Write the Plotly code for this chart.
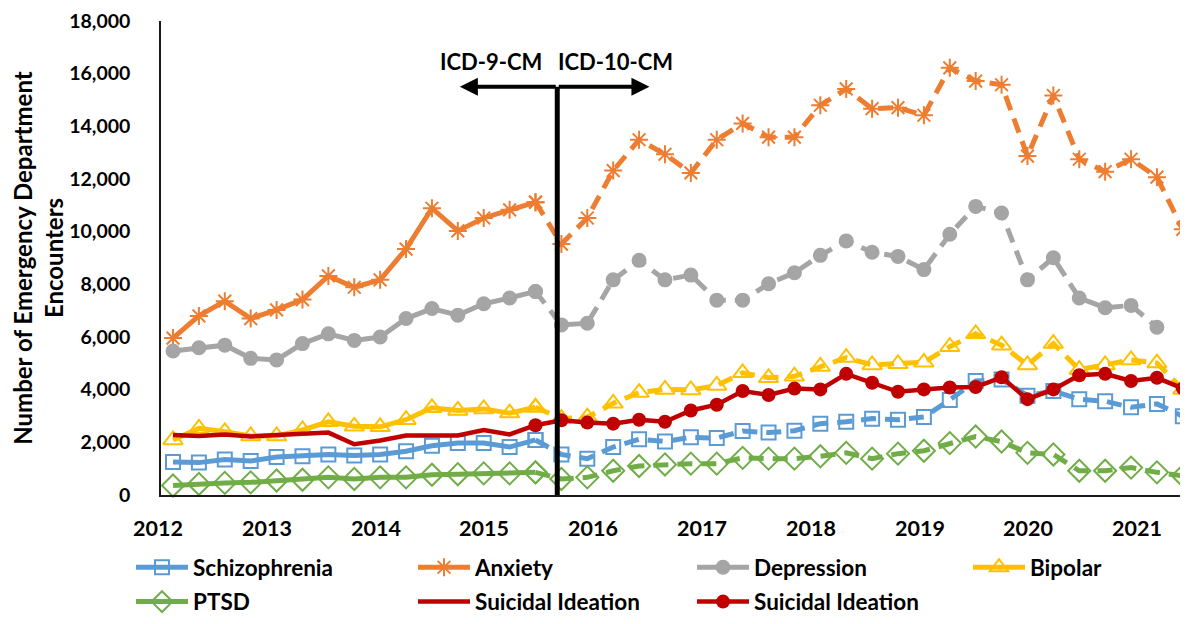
import plotly.graph_objects as go

# ---- data (quarterly ED encounters, 2012 Q1 .. 2021 Q4) ----
years = list(range(2012, 2022))
quarters = [1, 2, 3, 4]
year_labels = [str(y) for y in years]

schizophrenia = [1250, 1230, 1350, 1290, 1440, 1470, 1540, 1500, 1540, 1660,
                 1870, 1970, 1970, 1820, 2090, 1540, 1380, 1820, 2120, 2030,
                 2190, 2160, 2430, 2370, 2440, 2710, 2780, 2900, 2860, 2960,
                 3610, 4330, 4390, 3770, 3950, 3640, 3560, 3330, 3460, 2990]
anxiety = [5960, 6800, 7360, 6700, 7030, 7420, 8320, 7890, 8170, 9340,
           10890, 10030, 10520, 10830, 11120, 9530, 10520, 12320, 13490, 12940,
           12230, 13490, 14110, 13590, 13590, 14800, 15420, 14670, 14710, 14420,
           16220, 15720, 15580, 12870, 15170, 12750, 12280, 12750, 12070, 10090]
depression = [5470, 5590, 5690, 5190, 5130, 5750, 6120, 5870, 6000, 6700,
              7080, 6830, 7260, 7480, 7730, 6460, 6520, 8170, 8910, 8170,
              8350, 7400, 7400, 8020, 8440, 9100, 9650, 9220, 9060, 8560,
              9900, 10960, 10710, 8170, 9010, 7480, 7110, 7200, 6370, None]
bipolar = [2090, 2530, 2400, 2240, 2240, 2470, 2780, 2610, 2590, 2860,
           3310, 3210, 3270, 3110, 3330, 2900, 2960, 3480, 3890, 4010,
           3990, 4160, 4640, 4450, 4510, 4880, 5220, 4940, 4980, 5040,
           5630, 6120, 5690, 4940, 5750, 4760, 4940, 5130, 5010, 4010]
ptsd = [360, 420, 460, 480, 550, 580, 670, 610, 670, 670,
        770, 790, 820, 820, 860, 610, 670, 920, 1100, 1160,
        1190, 1190, 1410, 1380, 1380, 1470, 1600, 1380, 1570, 1680,
        1970, 2220, 2030, 1600, 1540, 920, 920, 1040, 860, 730]
suicidal = [2280, 2240, 2300, 2220, 2280, 2320, 2370, 1930, 2070, 2260,
            2260, 2260, 2470, 2300, 2650, 2840, 2750, 2710, 2860, 2780,
            3210, 3430, 3950, 3800, 4040, 4010, 4600, 4260, 3920, 4010,
            4080, 4100, 4470, 3640, 4010, 4550, 4600, 4330, 4450, 4050]

x = [y + (q - 1) / 4 for y in years for q in quarters]
SPLIT = 14          # last ICD-9-CM point shared with dashed ICD-10-CM segment
ICD_SWITCH = 2015.71
ARROW_Y = 15500

# Target geometry in window pixels. The page body keeps its default 8px margin,
# so the figure itself is 8px smaller and its margins are offset by 8px.
PAGE_OFF = 8
WIN_W, WIN_H = 1188, 624
PLOT_L, PLOT_R, PLOT_T, PLOT_B = 161, 1188, 21, 504
PLOT_W, PLOT_H = PLOT_R - PLOT_L, PLOT_B - PLOT_T

# year labels are laid out as an evenly spaced row (slightly wider than the quarters)
LABEL_PX0, LABEL_STEP_PX = 158, 108.8

FONT = "Lato"
fig = go.Figure()

series = [
    ("Schizophrenia", schizophrenia, "#5B9BD5", "square-open", 14, "legend"),
    ("Anxiety", anxiety, "#ED7D31", "asterisk-open", 15, "legend2"),
    ("Depression", depression, "#A5A5A5", "circle", 13, "legend3"),
    ("Bipolar", bipolar, "#FFC000", "triangle-up-open", 17, "legend4"),
    ("PTSD", ptsd, "#70AD47", "diamond-open", 17, "legend5"),
]

for name, vals, color, sym, size, lg in series:
    mk = dict(symbol=sym, size=size, color=color, line=dict(color=color, width=2))
    fig.add_trace(go.Scatter(
        x=x[:SPLIT + 1], y=vals[:SPLIT + 1], name=name, mode="lines+markers",
        line=dict(color=color, width=5), marker=mk, legend=lg, cliponaxis=False))
    fig.add_trace(go.Scatter(
        x=x[SPLIT:], y=vals[SPLIT:], name=name, mode="lines+markers",
        line=dict(color=color, width=5, dash="15px,9px"), marker=mk,
        showlegend=False, legend=lg, cliponaxis=False))

fig.add_trace(go.Scatter(
    x=x[:SPLIT + 1], y=suicidal[:SPLIT + 1], name="Suicidal Ideation",
    mode="lines", line=dict(color="#C00000", width=4.5), legend="legend6",
    cliponaxis=False))
fig.add_trace(go.Scatter(
    x=x[SPLIT:], y=suicidal[SPLIT:], name="Suicidal Ideation",
    mode="lines+markers", line=dict(color="#C00000", width=4.5),
    marker=dict(symbol="circle", size=14, color="#C00000"), legend="legend7",
    cliponaxis=False))

# ICD transition marker
fig.add_shape(type="line", x0=ICD_SWITCH, x1=ICD_SWITCH, y0=0, y1=ARROW_Y,
              xref="x", yref="y", line=dict(color="black", width=5), layer="above")
for head in (2014.77, 2016.60):
    fig.add_annotation(x=head, y=ARROW_Y, ax=ICD_SWITCH, ay=ARROW_Y,
                       xref="x", yref="y", axref="x", ayref="y", text="",
                       showarrow=True, arrowhead=2, arrowsize=0.9,
                       arrowwidth=4, arrowcolor="black", standoff=0, startstandoff=0)
fig.add_annotation(x=2015.07, y=16450, xref="x", yref="y", text="ICD-9-CM",
                   showarrow=False, font=dict(family=FONT, size=22, color="black", weight="bold"))
fig.add_annotation(x=2016.27, y=16450, xref="x", yref="y", text="ICD-10-CM",
                   showarrow=False, font=dict(family=FONT, size=22, color="black", weight="bold"))

# year labels row
for i, lab in enumerate(year_labels):
    fig.add_annotation(x=(LABEL_PX0 + i * LABEL_STEP_PX - PLOT_L) / PLOT_W, y=0,
                       xref="paper", yref="paper", text=lab, showarrow=False,
                       xanchor="center", yanchor="middle", yshift=-33,
                       font=dict(family=FONT, size=21.5, color="black", weight="bold"))


def legend_at(px, py):
    return dict(x=(px - PLOT_L) / PLOT_W, y=(PLOT_B - py) / PLOT_H,
                xanchor="left", yanchor="middle", itemwidth=52,
                font=dict(family=FONT, size=22.5, color="black", weight="bold"),
                bgcolor="rgba(0,0,0,0)", borderwidth=0)


fig.update_layout(
    width=WIN_W - PAGE_OFF, height=WIN_H - PAGE_OFF,
    margin=dict(l=PLOT_L - PAGE_OFF, r=WIN_W - PLOT_R, t=PLOT_T - PAGE_OFF,
                b=WIN_H - PLOT_B),
    paper_bgcolor="white", plot_bgcolor="white",
    font=dict(family=FONT, color="black"),
    xaxis=dict(range=[2011.884, 2021.80], showticklabels=False, showgrid=False,
               zeroline=False, showline=True, linecolor="#1a1a1a", linewidth=2,
               ticks="", automargin=False),
    yaxis=dict(range=[0, 18000], tickvals=list(range(0, 18001, 2000)),
               tickformat=",d", showgrid=False, zeroline=False,
               showline=True, linecolor="#1a1a1a", linewidth=1.5, ticks="",
               ticklabelstandoff=25, automargin=False, ticklabeloverflow="allow",
               tickfont=dict(family=FONT, size=19.5, color="black", weight="bold"),
               title=dict(text="Number of Emergency Department<br>Encounters",
                          standoff=8,
                          font=dict(family=FONT, size=24, color="black", weight="bold"))),
    legend=legend_at(131, 578),
    legend2=legend_at(413, 578),
    legend3=legend_at(692, 578),
    legend4=legend_at(968, 578),
    legend5=legend_at(131, 613),
    legend6=legend_at(413, 613),
    legend7=legend_at(692, 613),
    showlegend=True,
)

fig.write_html("out.html", config={"displayModeBar": False})
